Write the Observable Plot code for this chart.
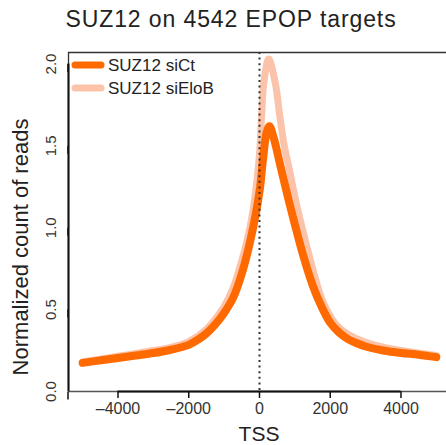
<!DOCTYPE html>
<html>
<head>
<meta charset="utf-8">
<script src="https://cdn.jsdelivr.net/npm/d3@7"></script>
<script src="https://cdn.jsdelivr.net/npm/@observablehq/plot@0.6"></script>
<style>
  html, body { margin: 0; padding: 0; background: #fff; overflow: hidden; }
  #chart svg { display: block; }
</style>
</head>
<body>
<div id="chart"></div>
<script>
// ---- data ----
const title = "SUZ12 on 4542 EPOP targets";
const xLabel = "TSS";
const yLabel = "Normalized count of reads";
const seriesNames = ["SUZ12 siCt", "SUZ12 siEloB"];
const seriesColors = ["#FF6A00", "#FBC4AA"];

const ctX = [-5000, -4500, -4000, -3500, -3000, -2500, -2000, -1750, -1500, -1250, -1000, -750, -500, -250, 0, 100, 200, 280, 400, 600, 800, 1000, 1250, 1500, 1750, 2000, 2250, 2500, 2750, 3000, 3500, 4000, 4500, 5000];
const ctY = [0.175, 0.19, 0.205, 0.22, 0.235, 0.255, 0.285, 0.315, 0.355, 0.41, 0.48, 0.57, 0.72, 0.93, 1.22, 1.42, 1.58, 1.62, 1.55, 1.37, 1.19, 1.02, 0.82, 0.65, 0.52, 0.42, 0.36, 0.32, 0.295, 0.275, 0.25, 0.235, 0.225, 0.21];

const eloX = [-5000, -4000, -3000, -2500, -2000, -1500, -1000, -750, -500, -300, -140, 0, 60, 120, 260, 450, 575, 700, 830, 1020, 1240, 1490, 1770, 2000, 2200, 2500, 3000, 3500, 4000, 4500, 5000];
const eloY = [0.18, 0.215, 0.25, 0.27, 0.305, 0.38, 0.52, 0.63, 0.80, 0.97, 1.17, 1.45, 1.68, 1.88, 2.03, 1.88, 1.68, 1.50, 1.37, 1.17, 0.97, 0.76, 0.56, 0.46, 0.40, 0.35, 0.30, 0.27, 0.25, 0.235, 0.22];

const xTicks = [-4000, -2000, 0, 2000, 4000];
const yTicks = [0, 0.5, 1.0, 1.5, 2.0];

// ---- build tables ----
const ct = ctX.map((x, i) => ({x, y: ctY[i]}));
const elo = eloX.map((x, i) => ({x, y: eloY[i]}));

const W = 446, H = 445;
const xDomain = [-5400, 5287];
const yDomain = [0, 2.07];
const font = "'Liberation Sans', Arial, Helvetica, sans-serif";

const plot = Plot.plot({
  width: W,
  height: H,
  marginLeft: 68,
  marginTop: 52,
  marginBottom: 54,
  marginRight: 0,
  style: {fontFamily: font, color: "#222", background: "#fff"},
  x: {domain: xDomain},
  y: {domain: yDomain},
  marks: [
    // box (top, left, bottom)
    Plot.ruleY([yDomain[1]], {stroke: "#333", strokeWidth: 1.3}),
    Plot.ruleY([yDomain[0]], {stroke: "#555", strokeWidth: 1.3}),
    Plot.ruleX([xDomain[0]], {stroke: "#333", strokeWidth: 1.3}),
    // axis lines (between first and last tick)
    Plot.ruleY([0], {x1: xTicks[0], x2: xTicks[xTicks.length - 1], stroke: "#111", strokeWidth: 2}),
    Plot.ruleX([xDomain[0]], {y1: yTicks[0], y2: yTicks[yTicks.length - 1], stroke: "#111", strokeWidth: 2}),
    Plot.line(elo, {x: "x", y: "y", stroke: seriesColors[1], strokeWidth: 7, curve: "catmull-rom", strokeLinecap: "round", strokeLinejoin: "round"}),
    Plot.line(ct, {x: "x", y: "y", stroke: seriesColors[0], strokeWidth: 8, curve: "catmull-rom", strokeLinecap: "round", strokeLinejoin: "round"}),
    Plot.ruleX([0], {stroke: "#333", strokeWidth: 2, strokeDasharray: "2,3.6"}),
    Plot.axisX({ticks: xTicks, tickSize: 7, tickPadding: 4, fontSize: 16, label: null, stroke: "#111", strokeWidth: 1.5, tickFormat: d => d < 0 ? "\u2013" + Math.abs(d) : String(d), fill: "#333"}),
    Plot.axisY({ticks: yTicks, tickSize: 8, tickPadding: 9, fontSize: 15, label: null, rotate: -90, textAnchor: "middle", stroke: "#111", strokeWidth: 1.5, tickFormat: d3.format(".1f"), fill: "#333"})
  ]
});

document.getElementById("chart").appendChild(plot);
const svg = d3.select(plot);

// title
svg.append("text")
  .attr("x", 231).attr("y", 27)
  .attr("text-anchor", "middle")
  .attr("font-family", font)
  .attr("font-size", 23)
  .attr("letter-spacing", "0.9px")
  .attr("fill", "#222")
  .text(title);

// x label
svg.append("text")
  .attr("x", 259).attr("y", 441)
  .attr("text-anchor", "middle")
  .attr("font-family", font)
  .attr("font-size", 21)
  .attr("fill", "#222")
  .text(xLabel);

// y label
svg.append("text")
  .attr("transform", "translate(28,247) rotate(-90)")
  .attr("text-anchor", "middle")
  .attr("font-family", font)
  .attr("font-size", 22)
  .attr("fill", "#222")
  .text(yLabel);

// legend
const lg = svg.append("g");
seriesNames.forEach((name, i) => {
  const y = 65 + i * 23;
  lg.append("line")
    .attr("x1", 75).attr("x2", 101).attr("y1", y).attr("y2", y)
    .attr("stroke", seriesColors[i]).attr("stroke-width", 7)
    .attr("stroke-linecap", "round");
  lg.append("text")
    .attr("x", 108).attr("y", y + 6)
    .attr("text-anchor", "start")
    .attr("font-family", font)
    .attr("font-size", 17)
    .attr("fill", "#222")
    .text(name);
});
</script>
</body>
</html>
